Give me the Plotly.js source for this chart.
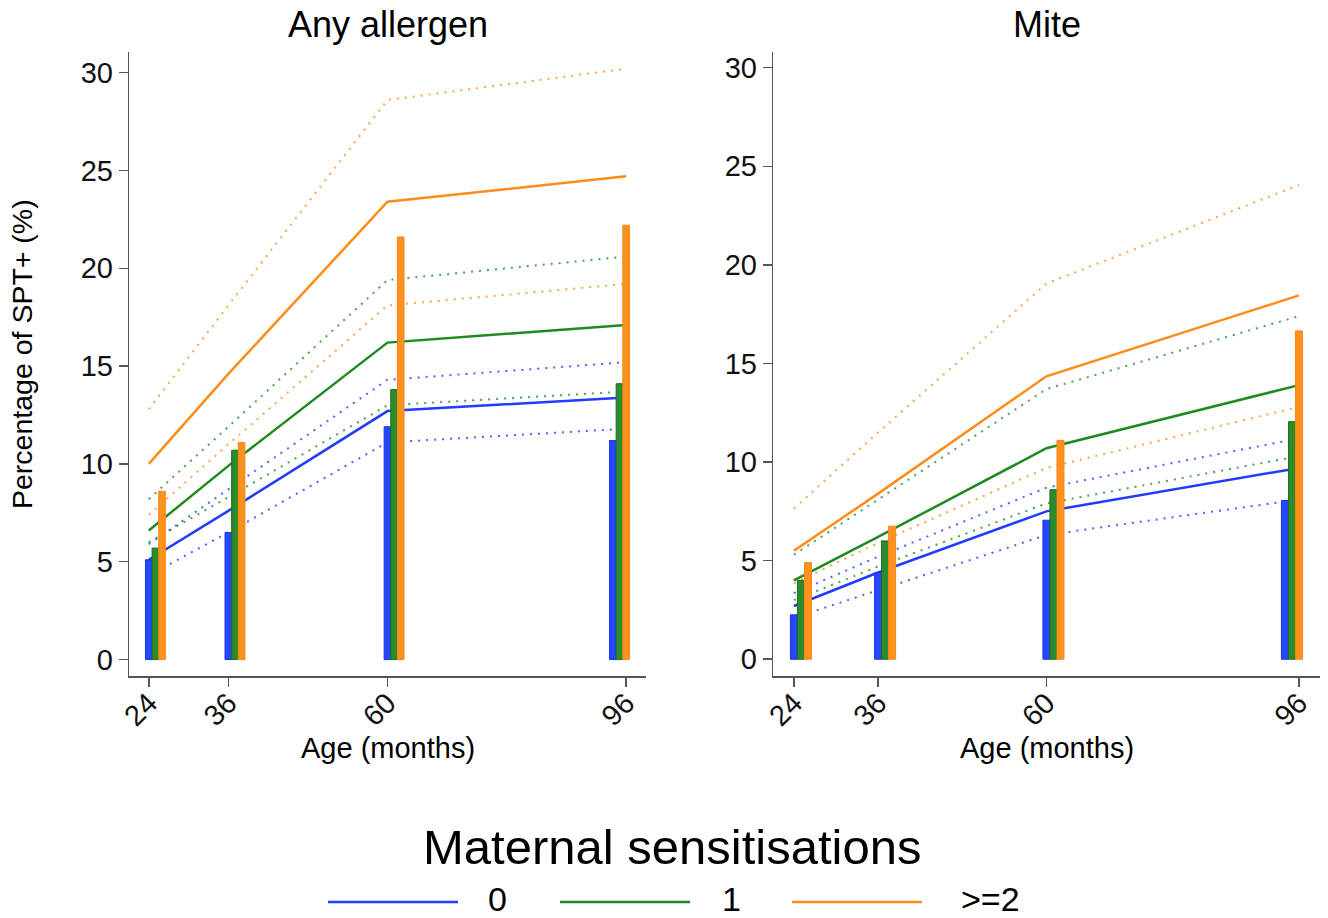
<!DOCTYPE html>
<html>
<head>
<meta charset="utf-8">
<script src="https://cdn.plot.ly/plotly-3.0.1.min.js"></script>
<style>html,body{margin:0;padding:0;background:#fff;}#chart{width:1328px;height:918px;}</style>
</head>
<body>
<div id="chart"></div>
<script>
// ---- data ----
const ages = [24, 36, 60, 96];
const groupNames = ['0', '1', '>=2'];
const panelTitles = ['Any allergen', 'Mite'];
const yTicks = [0, 5, 10, 15, 20, 25, 30];

// Any allergen: observed bars
const anyBar0 = [5.1, 6.5, 11.9, 11.2];
const anyBar1 = [5.7, 10.7, 13.8, 14.1];
const anyBar2 = [8.6, 11.1, 21.6, 22.2];
// Any allergen: fitted lines and confidence bounds
const anyFit0 = [5.1, 7.6, 12.7, 13.4];
const anyFit1 = [6.6, 9.9, 16.2, 17.1];
const anyFit2 = [10.0, 14.6, 23.4, 24.7];
const anyLo0 = [4.3, 6.5, 11.1, 11.8];
const anyHi0 = [5.9, 8.7, 14.3, 15.2];
const anyLo1 = [6.0, 8.3, 13.0, 13.7];
const anyHi1 = [8.2, 11.9, 19.4, 20.6];
const anyLo2 = [7.4, 11.0, 18.1, 19.2];
const anyHi2 = [12.8, 18.1, 28.6, 30.2];

// Mite: observed bars
const miteBar0 = [2.25, 4.4, 7.05, 8.05];
const miteBar1 = [4.0, 6.0, 8.6, 12.05];
const miteBar2 = [4.9, 6.75, 11.1, 16.65];
// Mite: fitted lines and confidence bounds
const miteFit0 = [2.7, 4.4, 7.5, 9.7];
const miteFit1 = [4.0, 6.2, 10.7, 13.9];
const miteFit2 = [5.5, 8.4, 14.35, 18.45];
const miteLo0 = [2.1, 3.5, 6.3, 8.1];
const miteHi0 = [3.35, 5.2, 8.7, 11.2];
const miteLo1 = [3.0, 4.7, 7.9, 10.3];
const miteHi1 = [5.3, 8.1, 13.7, 17.4];
const miteLo2 = [3.85, 5.9, 9.7, 12.8];
const miteHi2 = [7.65, 11.5, 19.05, 24.05];

// ---- styling ----
const W = 1328, H = 918;
const FONT = '"Liberation Sans", Arial, Helvetica, sans-serif';
const lineCol = ['#1f3cff', '#1f8a1f', '#ff8c1a'];
const barFill = ['#2447ff', '#2a8c2a', '#ff921f'];
const barEdge = ['#1a35e0', '#1a6e1a', '#f5861a'];
// bar offsets from the age (left edge, in months); at 96 the group is shifted left
const barOffsets = [
  [-0.5, -0.5, -0.5, -2.5],
  [0.5, 0.5, 0.5, -1.5],
  [1.5, 1.5, 1.5, -0.5]
];

const panels = [
  {bars: [anyBar0, anyBar1, anyBar2], fit: [anyFit0, anyFit1, anyFit2],
   lo: [anyLo0, anyLo1, anyLo2], hi: [anyHi0, anyHi1, anyHi2],
   xa: 'x', ya: 'y', xb: 'x3', yb: 'y3'},
  {bars: [miteBar0, miteBar1, miteBar2], fit: [miteFit0, miteFit1, miteFit2],
   lo: [miteLo0, miteLo1, miteLo2], hi: [miteHi0, miteHi1, miteHi2],
   xa: 'x2', ya: 'y2', xb: 'x4', yb: 'y4'}
];

const traces = [];
panels.forEach(p => {
  for (let g = 0; g < 3; g++) {
    [p.lo[g], p.hi[g]].forEach(ci => traces.push({
      type: 'scatter', mode: 'lines', x: ages, y: ci, xaxis: p.xa, yaxis: p.ya,
      line: {color: lineCol[g], width: 2, dash: '2px,6px'}, opacity: 0.8,
      showlegend: false, hoverinfo: 'skip'
    }));
    traces.push({
      type: 'scatter', mode: 'lines', x: ages, y: p.fit[g], xaxis: p.xa, yaxis: p.ya,
      line: {color: lineCol[g], width: 2.5}, name: groupNames[g], showlegend: false
    });
  }
  for (let g = 0; g < 3; g++) {
    traces.push({
      type: 'bar', x: ages, y: p.bars[g], xaxis: p.xb, yaxis: p.yb,
      width: 1, offset: barOffsets[g],
      marker: {color: barFill[g], line: {color: barEdge[g], width: 1}},
      name: groupNames[g], showlegend: false
    });
  }
});

const px = v => v / W;
const py = v => 1 - v / H;
const leftDom = [px(129.3), px(646)];
const rightDom = [px(773.3), px(1320)];
const yDom = [py(676), py(51.7)];
const xRange = [21.06, 99.0];

function xAxis(dom, anchor) {
  return {domain: dom, range: xRange, tickmode: 'array', tickvals: ages, ticktext: ages.map(String),
    tickangle: -45, ticks: 'outside', ticklen: 9, tickwidth: 1.5, tickcolor: '#555',
    ticklabelstandoff: -12,
    showline: true, linecolor: '#555', linewidth: 1.5, showgrid: false, zeroline: false,
    tickfont: {family: FONT, size: 29, color: '#111'}, anchor: anchor};
}
function yAxis(rng, anchor) {
  return {domain: yDom, range: rng, tickmode: 'array', tickvals: yTicks,
    ticks: 'outside', ticklen: 9, tickwidth: 1.5, tickcolor: '#555',
    showline: true, linecolor: '#555', linewidth: 1.5, showgrid: false, zeroline: false,
    tickfont: {family: FONT, size: 29, color: '#111'}, anchor: anchor};
}
const hidden = (over, rng, anchor) => ({overlaying: over, range: rng, visible: false,
  showgrid: false, zeroline: false, anchor: anchor});

const yRangeL = [-0.84, 31.07];
const yRangeR = [-0.85, 30.81];

const ann = [];
const txt = (text, x, y, size, extra) => Object.assign({text, x, y, xref: 'paper', yref: 'paper',
  showarrow: false, xanchor: 'center', yanchor: 'middle', font: {family: FONT, size, color: '#000'}}, extra || {});
ann.push(txt(panelTitles[0], px(387.5), py(25), 36));
ann.push(txt(panelTitles[1], px(1046.5), py(25), 36));
ann.push(txt('Age (months)', px(387.5), py(748), 29));
ann.push(txt('Age (months)', px(1046.5), py(748), 29));
ann.push(txt('Percentage of SPT+ (%)', px(22), py(354), 28.5, {textangle: -90}));
ann.push(txt('Maternal sensitisations', px(672), py(847), 49));

const legLines = [[328, 458], [560, 690], [792, 922]];
const legLabelX = [497, 731, 990];
const shapes = [];
for (let g = 0; g < 3; g++) {
  shapes.push({type: 'line', xref: 'paper', yref: 'paper', x0: px(legLines[g][0]), x1: px(legLines[g][1]),
    y0: py(902), y1: py(902), line: {color: lineCol[g], width: 2.5}});
  ann.push(txt(groupNames[g], px(legLabelX[g]), py(899), 34));
}

const layout = {
  width: W, height: H, margin: {l: 0, r: 0, t: 0, b: 0},
  paper_bgcolor: '#fff', plot_bgcolor: 'rgba(0,0,0,0)',
  showlegend: false, font: {family: FONT},
  xaxis: xAxis(leftDom, 'y'), yaxis: yAxis(yRangeL, 'x'),
  xaxis2: xAxis(rightDom, 'y2'), yaxis2: yAxis(yRangeR, 'x2'),
  xaxis3: hidden('x', xRange, 'y3'), yaxis3: hidden('y', yRangeL, 'x3'),
  xaxis4: hidden('x2', xRange, 'y4'), yaxis4: hidden('y2', yRangeR, 'x4'),
  annotations: ann, shapes: shapes
};

Plotly.newPlot('chart', traces, layout, {staticPlot: true, displayModeBar: false});
</script>
</body>
</html>
